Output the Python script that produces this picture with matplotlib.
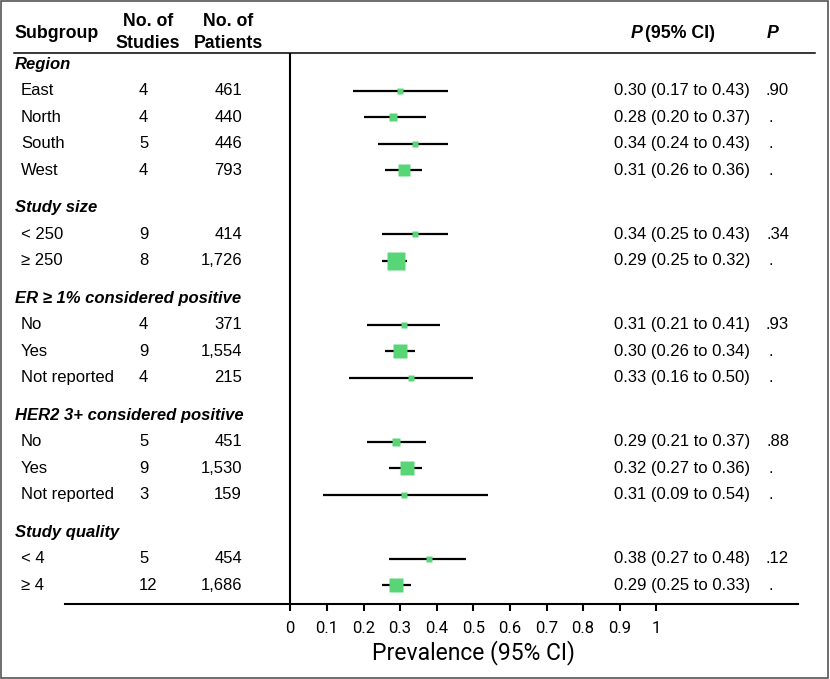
"""Forest plot of subgroup prevalence estimates."""

import matplotlib
matplotlib.use("Agg")
import matplotlib.pyplot as plt
import matplotlib.transforms as mtransforms
from matplotlib.lines import Line2D
from matplotlib.patches import Rectangle

plt.rcParams["font.family"] = ["Liberation Sans", "DejaVu Sans"]

W, H = 830, 679

group_names = [
    "Region",
    "Study size",
    "ER \u2265 1% considered positive",
    "HER2 3+ considered positive",
    "Study quality",
]
group_pvalues = [".90", ".34", ".93", ".88", ".12"]

row_group = [0, 0, 0, 0, 1, 1, 2, 2, 2, 3, 3, 3, 4, 4]
row_labels = ["East", "North", "South", "West",
              "< 250", "\u2265 250",
              "No", "Yes", "Not reported",
              "No", "Yes", "Not reported",
              "< 4", "\u2265 4"]
n_studies = [4, 4, 5, 4, 9, 8, 4, 9, 4, 5, 9, 3, 5, 12]
n_patients = [461, 440, 446, 793, 414, 1726, 371, 1554, 215, 451, 1530, 159, 454, 1686]
prevalence = [0.30, 0.28, 0.34, 0.31, 0.34, 0.29, 0.31, 0.30, 0.33, 0.29, 0.32, 0.31, 0.38, 0.29]
ci_low = [0.17, 0.20, 0.24, 0.26, 0.25, 0.25, 0.21, 0.26, 0.16, 0.21, 0.27, 0.09, 0.27, 0.25]
ci_high = [0.43, 0.37, 0.43, 0.36, 0.43, 0.32, 0.41, 0.34, 0.50, 0.37, 0.36, 0.54, 0.48, 0.33]

x_ticks = [0, 0.1, 0.2, 0.3, 0.4, 0.5, 0.6, 0.7, 0.8, 0.9, 1]

GREEN = "#58d677"
GROUP_GAP = 1.415
FS = 12
AXIS_FONT = ["Roboto", "Liberation Sans"]


def fx(px):
    return px / W


def fy(py):
    return 1 - py / H


def layout_rows():
    """Return y positions (row units) for group headers and data rows."""
    header_y, row_y = [], []
    y = 0.0
    prev = None
    for g in row_group:
        if g != prev:
            if prev is not None:
                y += GROUP_GAP
            header_y.append(y)
            prev = g
        y += 1
        row_y.append(y)
    return header_y, row_y


fig = plt.figure(figsize=(W / 100, H / 100), dpi=100)
ax = fig.add_axes([fx(65), fy(604), fx(798) - fx(65), fy(53) - fy(604)])

# x: 0 at 290.3 px, 1 at 656.3 px
px_per_unit = 366.0
ax.set_xlim((65 - 290.3) / px_per_unit, (798 - 290.3) / px_per_unit)
row_px = 26.5
ax.set_ylim((604 - 64.3) / row_px, (53 - 64.3) / row_px)

header_y, row_y = layout_rows()

for y, p, lo, hi in zip(row_y, prevalence, ci_low, ci_high):
    ax.hlines(y, lo, hi, color="black", lw=1.6, zorder=2)
    side_px = max(5.5, 1.2 / (hi - lo))
    ax.plot(p, y, marker="s", ms=side_px * 0.72, color=GREEN, mec="none", zorder=3)

ax.axvline(0, color="black", lw=1.5, zorder=1)

for s in ["top", "left", "right"]:
    ax.spines[s].set_visible(False)
ax.spines["bottom"].set_linewidth(1.5)
ax.set_yticks([])
ax.set_xticks(x_ticks)
ax.set_xticklabels([f"{t:g}" for t in x_ticks], fontsize=12, family=AXIS_FONT)
ax.tick_params(axis="x", direction="out", length=5, width=1.5, pad=7)

# axis title centred under the 0-1 scale
fig.text(fx(290.3 + 0.5 * px_per_unit), fy(653), "Prevalence (95% CI)",
         fontsize=16.5, family=AXIS_FONT, ha="center", va="center")

trans = mtransforms.blended_transform_factory(fig.transFigure, ax.transData)

for name, y in zip(group_names, header_y):
    ax.text(fx(15), y, name, transform=trans, fontsize=FS, fontweight="bold",
            fontstyle="italic", va="center", ha="left")

first_rows = {}
for i, g in enumerate(row_group):
    first_rows.setdefault(g, i)

for i, y in enumerate(row_y):
    ax.text(fx(21), y, row_labels[i], transform=trans, fontsize=FS, va="center")
    ax.text(fx(139), y, str(n_studies[i]), transform=trans, fontsize=FS, va="center")
    ax.text(fx(242), y, f"{n_patients[i]:,}", transform=trans, fontsize=FS,
            va="center", ha="right")
    ax.text(fx(614), y, f"{prevalence[i]:.2f} ({ci_low[i]:.2f} to {ci_high[i]:.2f})",
            transform=trans, fontsize=FS, va="center")
    g = row_group[i]
    if first_rows[g] == i:
        ax.text(fx(789), y, group_pvalues[g], transform=trans, fontsize=FS,
                va="center", ha="right")
    else:
        ax.text(fx(768), y, ".", transform=trans, fontsize=FS, va="center")

# column headers
hdr = dict(fontsize=FS + 0.8, fontweight="bold", va="center")
fig.text(fx(14), fy(33), "Subgroup", ha="left", **hdr)
fig.text(fx(148), fy(22), "No. of", ha="center", **hdr)
fig.text(fx(148), fy(43), "Studies", ha="center", **hdr)
fig.text(fx(228), fy(22), "No. of", ha="center", **hdr)
fig.text(fx(228), fy(43), "Patients", ha="center", **hdr)
fig.text(fx(631), fy(33), "P", ha="left", fontstyle="italic", **hdr)
fig.text(fx(645), fy(33), "(95% CI)", ha="left", **hdr)
fig.text(fx(773), fy(33), "P", ha="center", fontstyle="italic", **hdr)

fig.add_artist(Line2D([fx(14), fx(815)], [fy(53), fy(53)], color="black", lw=1.1))
fig.add_artist(Rectangle((fx(1), fy(678)), fx(827), fy(1) - fy(678),
                         transform=fig.transFigure, fill=False,
                         edgecolor="#555555", lw=1.2))

fig.savefig("out.png", dpi=100)
